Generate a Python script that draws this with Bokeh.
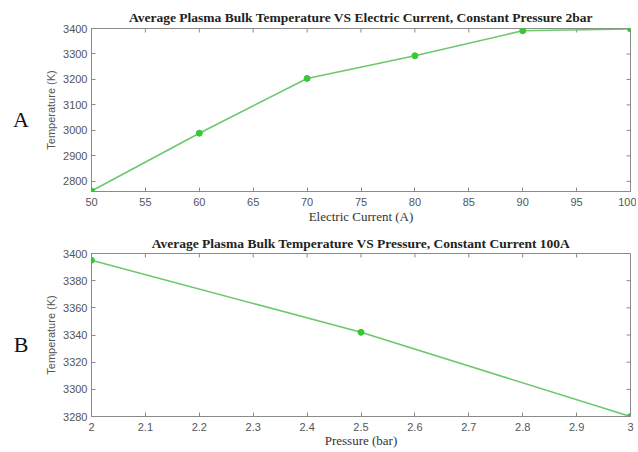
import math
from bokeh.plotting import figure
from bokeh.models import Range1d, FixedTicker, Div
from bokeh.layouts import column, row
from bokeh.embed import file_html
from bokeh.resources import INLINE

current_a = [50, 60, 70, 80, 90, 100]
temp_a = [2762, 2989, 3204, 3293, 3391, 3398]

pressure_b = [2.0, 2.5, 3.0]
temp_b = [3395, 3342, 3280]

xticks_a = [50, 55, 60, 65, 70, 75, 80, 85, 90, 95, 100]
yticks_a = [2800, 2900, 3000, 3100, 3200, 3300, 3400]
xticks_b = [2.0, 2.1, 2.2, 2.3, 2.4, 2.5, 2.6, 2.7, 2.8, 2.9, 3.0]
yticks_b = [3280, 3300, 3320, 3340, 3360, 3380, 3400]

LINE = "#6cc86c"
MARK = "#36c936"
AXIS = "#8a8a8a"
SANS = "Liberation Sans"
SERIF = "Liberation Serif"


def make(xr, yr, xt, yt, x, y, title, xlabel, top, bottom, tstand, lstand):
    p = figure(output_backend="svg", toolbar_location=None,
               x_range=Range1d(*xr), y_range=Range1d(*yr),
               frame_width=539, frame_height=163,
               min_border_left=45, min_border_right=6,
               min_border_top=top, min_border_bottom=bottom,
               x_axis_label=xlabel, y_axis_label="Temperature (K)")
    p.title.text = title
    p.title.align = "center"
    p.title.text_font = SERIF
    p.title.text_font_size = "13.5px"
    p.title.text_font_style = "bold"
    p.title.text_color = "#222222"
    p.title.offset = 0
    p.title.standoff = tstand
    p.grid.visible = False
    p.outline_line_color = AXIS
    p.background_fill_color = "white"
    p.border_fill_color = "white"
    for ax in p.axis:
        ax.major_tick_in = 4
        ax.major_tick_out = 0
        ax.minor_tick_in = 0
        ax.minor_tick_out = 0
        ax.axis_line_color = AXIS
        ax.major_tick_line_color = AXIS
        ax.major_label_text_font = SANS
        ax.major_label_text_font_size = "11px"
        ax.major_label_text_color = "#555555"
    p.xaxis.ticker = FixedTicker(ticks=xt)
    p.yaxis.ticker = FixedTicker(ticks=yt)
    p.xaxis.axis_label_text_font = SERIF
    p.xaxis.axis_label_text_font_style = "normal"
    p.xaxis.axis_label_text_font_size = "13px"
    p.xaxis.axis_label_text_color = "#333333"
    p.xaxis.axis_label_standoff = lstand
    p.xaxis.major_label_standoff = 6
    p.yaxis.axis_label_text_font = SANS
    p.yaxis.axis_label_text_font_style = "normal"
    p.yaxis.axis_label_text_font_size = "11px"
    p.yaxis.axis_label_text_color = "#555555"
    p.yaxis.axis_label_standoff = 3
    p.yaxis.major_label_standoff = 4
    # ticks on the top and right edges of the box (clipped to frame, half shows)
    p.scatter(xt, [yr[1]] * len(xt), marker="dash", angle=math.pi / 2, size=8,
              line_color=AXIS, line_width=1)
    p.scatter([xr[1]] * len(yt), yt, marker="dash", size=8,
              line_color=AXIS, line_width=1)
    p.line(x, y, line_color=LINE, line_width=1.6)
    p.scatter(x, y, size=6, fill_color=MARK, line_color=MARK)
    return p


def letter(ch, height, pad):
    return Div(text=(f'<div style="padding-top:{pad}px;width:42px;text-align:center;'
                     f'font-family:\'Liberation Serif\';font-size:22px;line-height:26px;'
                     f'color:#111111">{ch}</div>'),
               width=42, height=height, margin=0)


pa = make((50, 100), (2760, 3400), xticks_a, yticks_a, current_a, temp_a,
          "Average Plasma Bulk Temperature VS Electric Current, Constant Pressure 2bar",
          "Electric Current (A)", 28, 39, 7, 0)
pb = make((2.0, 3.0), (3280, 3400), xticks_b, yticks_b, pressure_b, temp_b,
          "Average Plasma Bulk Temperature VS Pressure, Constant Current 100A",
          "Pressure (bar)", 23, 36, 6, -1)

layout = column(row(letter("A", 230, 107), pa, spacing=0),
                row(letter("B", 222, 102), pb, spacing=0), spacing=0)
open("out.html", "w").write(file_html(layout, INLINE))
